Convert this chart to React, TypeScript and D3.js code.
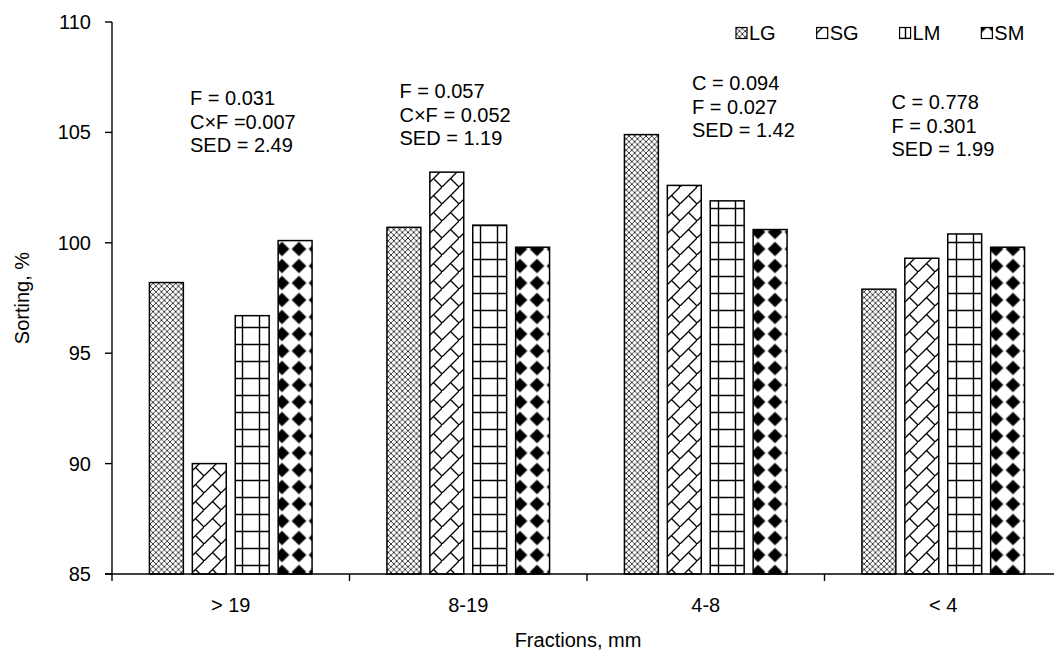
import React, { useMemo } from 'react';
import * as d3 from 'd3';

// ---- data ----
const categories = ['> 19', '8-19', '4-8', '< 4'];
const seriesKeys = ['LG', 'SG', 'LM', 'SM'];
const lgValues = [98.2, 100.7, 104.9, 97.9];
const sgValues = [90.0, 103.2, 102.6, 99.3];
const lmValues = [96.7, 100.8, 101.9, 100.4];
const smValues = [100.1, 99.8, 100.6, 99.8];
const yTicks = [85, 90, 95, 100, 105, 110];
const statNotes = [
  ['F = 0.031', 'C×F =0.007', 'SED = 2.49'],
  ['F = 0.057', 'C×F = 0.052', 'SED = 1.19'],
  ['C = 0.094', 'F = 0.027', 'SED = 1.42'],
  ['C = 0.778', 'F = 0.301', 'SED = 1.99'],
];

// ---- layout ----
const W = 1054;
const H = 657;
const FONT = "Arial, 'Liberation Sans', Helvetica, sans-serif";
const FS = 20;
const plot = { left: 112, right: 1062, top: 22, bottom: 574 };
// where each group's statistics block sits: x offset from the group start, first baseline
const noteLayout = [
  { dx: 78, y: 105 },
  { dx: 50, y: 98 },
  { dx: 105, y: 90 },
  { dx: 67, y: 109 },
];
const noteLineHeight = 23.5;
const legendLayout = { x: 736, y: 33, key: 11, gap: 2, spacing: 41 };

const seriesValues: Record<string, number[]> = {
  LG: lgValues,
  SG: sgValues,
  LM: lmValues,
  SM: smValues,
};

function measure(text: string): number {
  const c = document.createElement('canvas').getContext('2d');
  if (!c) return text.length * FS * 0.6;
  c.font = `${FS}px Arial, 'Liberation Sans', sans-serif`;
  return c.measureText(text).width;
}

function Patterns() {
  const t = 17;
  const s = 17 / 3;
  return (
    <defs>
      <pattern id="pat-LG" patternUnits="userSpaceOnUse" width={s} height={s}>
        <rect width={s} height={s} fill="#fff" />
        <path d={`M0,0L${s},${s}M${s},0L0,${s}`} stroke="#000" strokeWidth={0.75} />
      </pattern>
      <pattern id="pat-SG" patternUnits="userSpaceOnUse" width={t} height={t}>
        <rect width={t} height={t} fill="#fff" />
        <path d={`M0,${t}L${t},0M${t / 2},${t / 2}L${t},${t}`} stroke="#000" strokeWidth={1.3} />
      </pattern>
      <pattern id="pat-LM" patternUnits="userSpaceOnUse" width={t} height={t}>
        <rect width={t} height={t} fill="#fff" />
        <path d={`M4.5,0V${t}M0,4.5H${t}`} stroke="#000" strokeWidth={1.4} />
      </pattern>
      <pattern id="pat-SM" patternUnits="userSpaceOnUse" width={t} height={t} x={1.5} y={2.5}>
        <rect width={t} height={t} fill="#fff" />
        <polygon points={`8.5,1.2 15.8,8.5 8.5,15.8 1.2,8.5`} fill="#000" />
      </pattern>
    </defs>
  );
}

export default function App() {
  const x0 = d3.scaleBand<string>().domain(categories).range([plot.left, plot.right]).padding(0);
  const bw = x0.bandwidth();
  const x1 = d3
    .scaleBand<string>()
    .domain(seriesKeys)
    .range([bw * 0.1576, bw * (1 - 0.1576)])
    .paddingInner(9 / 43)
    .paddingOuter(0);
  const y = d3.scaleLinear().domain([85, 110]).range([plot.bottom, plot.top]);

  const legendItems = useMemo(() => {
    let cx = legendLayout.x;
    return seriesKeys.map((k) => {
      const item = { k, x: cx };
      cx += legendLayout.key + legendLayout.gap + measure(k) + legendLayout.spacing;
      return item;
    });
  }, []);

  return (
    <svg
      width={W}
      height={H}
      viewBox={`0 0 ${W} ${H}`}
      style={{ position: 'absolute', left: 0, top: 0, background: '#fff' }}
      fontFamily={FONT}
    >
      <Patterns />
      <rect width={W} height={H} fill="#fff" />

      {/* bars */}
      {categories.map((cat, ci) => (
        <g key={cat}>
          {seriesKeys.map((k) => {
            const v = seriesValues[k][ci];
            const bx = (x0(cat) ?? 0) + (x1(k) ?? 0);
            return (
              <rect
                key={k}
                x={bx}
                y={y(v)}
                width={x1.bandwidth()}
                height={y(85) - y(v)}
                fill={`url(#pat-${k})`}
                stroke="#000"
                strokeWidth={1.5}
              />
            );
          })}
        </g>
      ))}

      {/* y axis */}
      <line x1={plot.left} x2={plot.left} y1={plot.top} y2={plot.bottom + 7} stroke="#000" strokeWidth={1.4} />
      {yTicks.map((t) => (
        <g key={t}>
          <line x1={plot.left - 7} x2={plot.left} y1={y(t)} y2={y(t)} stroke="#000" strokeWidth={1.4} />
          <text x={plot.left - 21} y={y(t)} dy="0.35em" textAnchor="end" fontSize={FS}>
            {t}
          </text>
        </g>
      ))}

      {/* x axis */}
      <line x1={plot.left - 7} x2={plot.right} y1={plot.bottom} y2={plot.bottom} stroke="#000" strokeWidth={1.4} />
      {categories.map((cat) => (
        <g key={cat}>
          <line
            x1={(x0(cat) ?? 0) + bw}
            x2={(x0(cat) ?? 0) + bw}
            y1={plot.bottom}
            y2={plot.bottom + 7}
            stroke="#000"
            strokeWidth={1.4}
          />
          <text x={(x0(cat) ?? 0) + bw / 2} y={612} textAnchor="middle" fontSize={FS}>
            {cat}
          </text>
        </g>
      ))}

      {/* axis titles */}
      <text x={578} y={647} textAnchor="middle" fontSize={FS}>
        Fractions, mm
      </text>
      <text
        transform={`translate(29, ${(plot.top + plot.bottom) / 2}) rotate(-90)`}
        textAnchor="middle"
        fontSize={FS}
      >
        Sorting, %
      </text>

      {/* statistics per fraction */}
      {statNotes.map((lines, ci) => (
        <text key={ci} fontSize={FS} x={(x0(categories[ci]) ?? 0) + noteLayout[ci].dx} y={noteLayout[ci].y}>
          {lines.map((ln, li) => (
            <tspan key={li} x={(x0(categories[ci]) ?? 0) + noteLayout[ci].dx} y={noteLayout[ci].y + li * noteLineHeight}>
              {ln}
            </tspan>
          ))}
        </text>
      ))}

      {/* legend */}
      {legendItems.map(({ k, x }) => (
        <g key={k}>
          <rect
            x={x}
            y={legendLayout.y - legendLayout.key / 2}
            width={legendLayout.key}
            height={legendLayout.key}
            fill={`url(#pat-${k})`}
            stroke="#000"
            strokeWidth={1.2}
          />
          <text x={x + legendLayout.key + legendLayout.gap} y={legendLayout.y} dy="0.35em" fontSize={FS}>
            {k}
          </text>
        </g>
      ))}
    </svg>
  );
}
